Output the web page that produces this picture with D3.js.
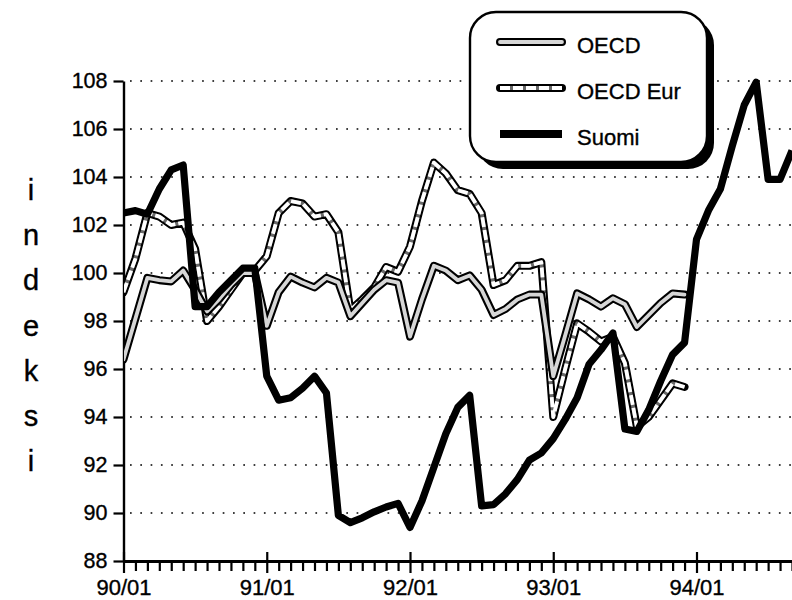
<!DOCTYPE html>
<html><head><meta charset="utf-8">
<script src="https://cdn.jsdelivr.net/npm/d3@7/dist/d3.min.js"></script>
<style>
html,body{margin:0;padding:0;background:#fff;}
svg{display:block;font-family:"Liberation Sans",Arial,Helvetica,sans-serif;}
text{stroke:#000;stroke-width:0.35px;}
</style></head>
<body><svg id="c" width="792" height="600"></svg>
<script>
// Monthly index values, starting 90/01
const suomi = [102.5,102.6,102.45,103.5,104.3,104.5,98.6,98.6,99.2,99.7,100.2,100.2,
  95.7,94.7,94.8,95.2,95.7,95.0,89.9,89.6,89.8,90.05,90.25,90.4,
  89.4,90.5,91.9,93.3,94.4,94.9,90.3,90.35,90.8,91.4,92.2,92.5,
  93.1,93.9,94.8,96.2,96.8,97.5,93.5,93.4,94.3,95.5,96.6,97.1,
  101.4,102.6,103.5,105.3,107.0,107.95,103.9,103.9,105.1];
const oecd = [96.4,98.1,99.8,99.7,99.65,100.1,99.3,98.4,98.9,99.5,100.0,100.0,
  97.8,99.2,99.85,99.6,99.4,99.8,99.6,98.2,98.75,99.3,99.7,99.6,
  97.35,98.9,100.3,100.1,99.7,99.9,99.3,98.25,98.5,98.9,99.1,99.1,
  95.7,97.4,99.15,98.9,98.6,98.95,98.7,97.75,98.25,98.75,99.15,99.1];
const oecdEur = [99.2,100.6,102.5,102.35,102.0,102.1,101.0,98.0,98.6,99.3,100.0,100.1,
  100.7,102.5,103.0,102.9,102.35,102.45,101.7,98.45,98.9,99.4,100.25,100.05,
  101.1,103.0,104.6,104.15,103.45,103.3,102.5,99.5,99.7,100.3,100.3,100.45,
  94.0,96.0,97.9,97.55,97.15,97.35,96.25,93.6,94.0,94.7,95.4,95.25];
const yTicks = [88,90,92,94,96,98,100,102,104,106,108];
const xLabels = ["90/01","91/01","92/01","93/01","94/01"];
const seriesNames = ["OECD","OECD Eur","Suomi"];
const axisTitle = "indeksi";

const svg = d3.select("#c");
const x = d3.scaleLinear().domain([0,56]).range([123.5,792]);
const y = d3.scaleLinear().domain([88,108]).range([561,81]);

// grid
svg.append("g").selectAll("line").data(yTicks.filter(v=>v>88)).join("line")
  .attr("x1",130).attr("x2",792).attr("y1",d=>y(d)).attr("y2",d=>y(d))
  .attr("stroke","#000").attr("stroke-width",1.7).attr("stroke-dasharray","1.7,8.6");

// y axis
const ya = svg.append("g").attr("transform","translate(123.5,0)")
  .call(d3.axisLeft(y).tickValues(yTicks).tickSize(10).tickSizeOuter(0).tickPadding(6));
ya.select(".domain").attr("stroke-width",2.4);
ya.selectAll(".tick line").attr("stroke-width",2.2);
ya.selectAll(".tick text").attr("font-size",21.5).attr("font-family","Liberation Sans, Arial, sans-serif").attr("fill","#000");

// x axis
const xa = svg.append("g").attr("transform","translate(0,561)")
  .call(d3.axisBottom(x).tickValues(d3.range(0,57)).tickSize(10).tickSizeOuter(0)
    .tickFormat(d=> d%12===0 ? xLabels[d/12] : ""));
xa.select(".domain").attr("stroke-width",2.8);
xa.selectAll(".tick line").attr("stroke-width",2.2)
  .attr("y1",d=>d%12===0?-9:0).attr("y2",d=>d%12===0?12:10);
xa.selectAll(".tick text").attr("font-size",22).attr("dy",0).attr("y",34)
  .attr("font-family","Liberation Sans, Arial, sans-serif").attr("fill","#000");

// y axis title (stacked letters)
svg.append("g").selectAll("text").data(axisTitle.split("")).join("text")
  .attr("x",31).attr("y",(d,i)=>200+i*45.2).attr("text-anchor","middle")
  .attr("font-size",29).text(d=>d);

const line = d3.line().x((d,i)=>x(i)).y(d=>y(d)).curve(d3.curveLinear);
svg.append("clipPath").attr("id","pc").append("rect")
  .attr("x",124).attr("y",0).attr("width",700).attr("height",561);
const plot = svg.append("g").attr("clip-path","url(#pc)");

function drawEur(g, path){
  g.append("path").attr("d",path).attr("fill","none").attr("stroke","#000").attr("stroke-width",8).attr("stroke-linejoin","round").attr("stroke-linecap","round");
  g.append("path").attr("d",path).attr("fill","none").attr("stroke","#6a6a6a").attr("stroke-width",3.8).attr("stroke-linejoin","round");
  g.append("path").attr("d",path).attr("fill","none").attr("stroke","#fff").attr("stroke-width",3.8).attr("stroke-dasharray","10,3").attr("stroke-linejoin","round");
}
function drawOecd(g, path){
  g.append("path").attr("d",path).attr("fill","none").attr("stroke","#000").attr("stroke-width",8).attr("stroke-linejoin","round").attr("stroke-linecap","round");
  g.append("path").attr("d",path).attr("fill","none").attr("stroke","#d6d6d6").attr("stroke-width",3.8).attr("stroke-linejoin","round").attr("stroke-linecap","round");
}
function drawSuomi(g, path){
  g.append("path").attr("d",path).attr("fill","none").attr("stroke","#000").attr("stroke-width",7.2).attr("stroke-linejoin","round");
}
drawEur(plot, line(oecdEur));
drawOecd(plot, line(oecd));
drawSuomi(plot, line(suomi));

// legend
const lg = svg.append("g");
lg.append("rect").attr("x",477).attr("y",19).attr("width",237).attr("height",150).attr("rx",26).attr("fill","#000");
lg.append("rect").attr("x",470).attr("y",12).attr("width",237).attr("height",150).attr("rx",26)
  .attr("fill","#fff").attr("stroke","#000").attr("stroke-width",2.4);
const ly = [42,88,134];
const sample = (yy)=>`M500,${yy}L562,${yy}`;
drawOecd(lg, sample(ly[0]));
drawEur(lg, sample(ly[1]));
lg.append("path").attr("d",sample(ly[2])).attr("stroke","#000").attr("stroke-width",8).attr("fill","none");
lg.selectAll("text").data(seriesNames).join("text")
  .attr("x",577).attr("y",(d,i)=>ly[i]+11).attr("font-size",22).text(d=>d);
</script></body></html>
